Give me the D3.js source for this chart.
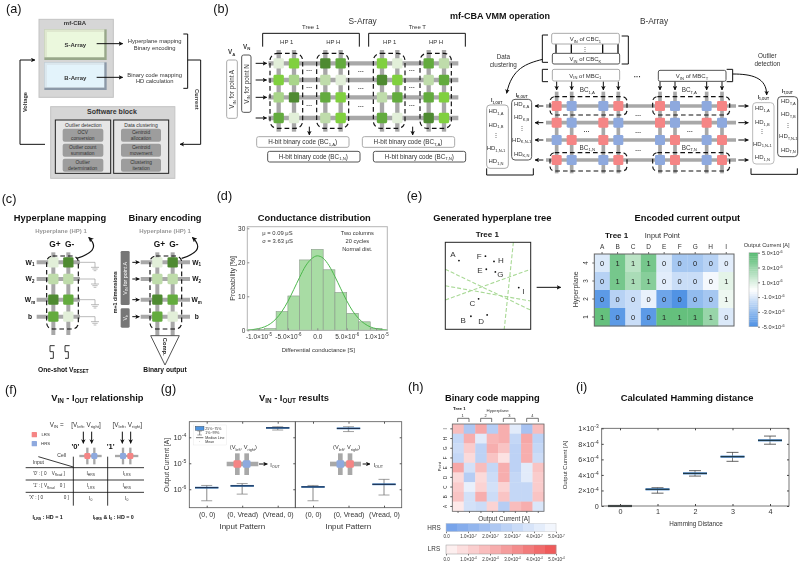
<!DOCTYPE html>
<html><head><meta charset="utf-8">
<script src="https://cdn.jsdelivr.net/npm/d3@7"></script>
<style>html,body{margin:0;padding:0;background:#fff}svg{display:block;font-family:"Liberation Sans",Arial,sans-serif;filter:blur(.3px)}</style>
</head><body><svg id="c" width="800" height="563"></svg>
<script>
// ---------- DATA ----------
const histEdges = [-11,-9,-7,-5,-3,-1,1,3,5,7,9,11];           // ×1e-6 S
const histProb  = [0.3,0.5,5.5,10.1,20.7,23.8,17.8,11.1,5,2.5,0.5];
const fitX = [-12,-11,-10,-9,-8,-7,-6,-5,-4,-3,-2,-1,0,1,2,3,4,5,6,7,8,9,10,11,12];
const fitY = [0.1,0.2,0.5,1,1.9,3.4,5.6,8.5,12,15.6,18.9,21,21.9,21.2,19,15.8,12.2,8.7,5.7,3.5,2,1,0.5,0.2,0.1];
const inputPoints = ['A','B','C','D','E','F','G','H','I'];
const hyperplanes = ['4','3','2','1'];
const encodedCurrent = [
  [-1,4,2,4,-1,-2.5,-2.5,-2,-0.8],
  [-2,4,2.5,3.5,-0.8,-1.5,-1.5,-0.3,0.8],
  [-4.5,-2,-1.5,-0.6,-4,-4.8,-3,-2.5,0.5],
  [4.5,-4.5,-1.5,-4.5,4.5,4.5,4.5,3,-1]];
const encodedBits = [[0,1,1,1,0,0,0,0,0],[0,1,1,1,0,0,0,0,1],[0,0,0,0,0,0,0,0,1],[1,0,0,0,1,1,1,1,0]];
const treePoints = [['A',.16,.79],['B',.30,.15],['C',.39,.35],['D',.49,.165],['E',.48,.69],['F',.47,.84],['G',.586,.66],['H',.57,.78],['I',.86,.48]];
const treeLabelOffset = {A:[-6,-7],B:[-7.7,4],C:[-6.3,3.7],D:[-6,5.7],E:[-6.3,.7],F:[-6.3,0],G:[5,2.3],H:[7,-1.7],I:[4.7,3.3]};
const treeSplits = [[.797,1,.69,0],[0,.69,1,.22],[0,.5,1,.325],[0,.337,1,.69]];
const gPatterns = ['(0, 0)','(0, Vread)','(Vread, 0)'];
const gLeftLow  = [3.6e-7,6.5e-7,1.9e-4];
const gLeftMed  = [1.15e-6,1.35e-6,2.3e-4];
const gLeftHigh = [1.4e-6,1.66e-6,2.55e-4];
const gRightLow = [3.6e-7,1.66e-4,6e-7];
const gRightMed = [1.23e-6,2.2e-4,1.55e-6];
const gRightHigh= [1.4e-6,2.55e-4,2.4e-6];
const codeRows = ['I','H','G','F','E','D','C','B','A'];
const codeCols = [0,1,2,3,4,5,6,7];
const codeMap = [
  [.45,-.55,.6,-.5,.55,-.2,-.6,.45],
  [-.4,.55,-.2,.5,.55,-.4,.6,-.45],
  [-.35,.35,-.45,.55,.4,-.45,.55,-.4],
  [-.4,.25,-.45,.4,.2,-.45,.55,-.35],
  [.6,-.3,.45,-.4,.55,-.45,-.2,.4],
  [.25,-.5,.25,-.35,.55,-.4,-.2,.35],
  [.35,-.15,.3,-.3,.3,-.4,-.4,.35],
  [.4,-.3,.55,-.35,.4,-.4,-.4,.4],
  [.15,-.3,-.35,.3,-.5,.45,.55,-.25]];
const hrsTicks = ['0.0','1.0×10^{-7}','2.0×10^{-7}','3.0×10^{-7}','4.0×10^{-7}','5.0×10^{-7}'];
const lrsTicks = ['0.0','1.0×10^{-4}','2.0×10^{-4}','3.0×10^{-4}','4.0×10^{-4}','5.0×10^{-4}'];
const hammingD   = [0,1,2,3,4];
const hammingLow = [0,1.65e-4,3.85e-4,5.75e-4,7.95e-4];
const hammingMed = [0,2.15e-4,4.2e-4,6.35e-4,8.45e-4];
const hammingHigh= [0,2.35e-4,4.55e-4,6.9e-4,9.0e-4];
const sArrayLevels = [
  [0,3,5,4,3,0,4,1],
  [3,2,1,0,5,3,1,4],
  [2,5,4,3,1,4,4,3],
  [4,0,1,3,4,0,5,3]];
const bArrayStates = ['RBBRRBBR','RBRBRBRB','BRRBBRBR','RBBRBRBR'];

// ---------- HELPERS ----------
const svg = d3.select('#c');
const GREENS = ['#e2efd9','#bfdcab','#a9d58a','#80d03f','#63ab3e','#4e8a31'];
const RED='#f58585', BLUE='#8ea9de', GRAY='#a8a8a8', TXT='#333';
const TITLE=28;
const defs = svg.append('defs');
function marker(id,c){defs.append('marker').attr('id',id).attr('viewBox','0 0 10 10').attr('refX',9).attr('refY',5)
  .attr('markerWidth',4.5).attr('markerHeight',4.5).attr('orient','auto').append('path').attr('d','M0,0L10,5L0,10L2.5,5Z').attr('fill',c);}
marker('arr','#111');
function rich(sel,str,size){
  sel.text(null);
  const re=/_\{([^}]*)\}|\^\{([^}]*)\}/g; let last=0,m,pend=0;
  const add=(t,dy,fs)=>{const ts=sel.append('tspan').text(t).attr('dy',dy); if(fs) ts.attr('font-size',fs); return ts;};
  while((m=re.exec(str))){
    if(m.index>last){add(str.slice(last,m.index),pend); pend=0;}
    if(m[1]!==undefined){add(m[1],pend+size*.25,size*.68); pend=-size*.25;}
    else{add(m[2],pend-size*.38,size*.68); pend=size*.38;}
    last=re.lastIndex;
  }
  if(last<str.length) add(str.slice(last),pend);
  return sel;
}
function T(g,x,y,s,o={}){
  const size=o.size||18;
  const t=g.append('text').attr('x',o.rot?0:x).attr('y',o.rot?0:y).attr('font-size',size)
    .attr('text-anchor',o.anchor||'middle').attr('fill',o.fill||TXT).attr('font-weight',o.bold?'bold':'normal');
  if(o.rot) t.attr('transform',`translate(${x},${y}) rotate(${o.rot})`);
  rich(t,s,size); return t;
}
function R(g,x,y,w,h,o={}){
  return g.append('rect').attr('x',x).attr('y',y).attr('width',w).attr('height',h).attr('rx',o.rx||0)
    .attr('fill',o.fill||'none').attr('stroke',o.stroke||'none').attr('stroke-width',o.sw||1).attr('stroke-dasharray',o.dash||null);
}
function L(g,pts,o={}){
  const p=g.append('path').attr('d',typeof pts==='string'?pts:d3.line()(pts)).attr('fill','none')
    .attr('stroke',o.stroke||'#111').attr('stroke-width',o.sw||3).attr('stroke-dasharray',o.dash||null);
  if(o.arrow) p.attr('marker-end','url(#arr)');
  return p;
}
function XB(g,cols,rows,hx,vy,colorOf,size,lw){
  rows.forEach(y=>L(g,[[hx[0],y],[hx[1],y]],{stroke:GRAY,sw:lw}));
  cols.forEach(x=>L(g,[[x,vy[0]],[x,vy[1]]],{stroke:GRAY,sw:lw}));
  rows.forEach((y,i)=>cols.forEach((x,j)=>R(g,x-size/2,y-size/2,size,size,{fill:colorOf(i,j),rx:4})));
}
const P=(x,y)=>svg.append('g').attr('transform',`translate(${x},${y}) scale(${1/3})`);
function frameAxis(g,x0,x1,y0,y1,c,w){R(g,x0,y0,x1-x0,y1-y0,{stroke:c,sw:w||1});}
function styleAxis(ax,c){ax.select('.domain').remove();ax.selectAll('line').attr('stroke',c);}
function relabel(ax,fn,size,fill){
  ax.selectAll('text').attr('font-size',size).attr('fill',fill||TXT).attr('font-family','inherit').each(function(d,i){
    const s=d3.select(this), dy=parseFloat(s.attr('dy'))||0;
    s.attr('y',(parseFloat(s.attr('y'))||0)+dy*size).attr('dy',null);
    rich(s,fn(d,i),size);
  });
}
const sci=(d)=>d===0?'0.0':`${d<0?'-':''}${(Math.abs(d)/Math.pow(10,Math.floor(Math.log10(Math.abs(d))))).toFixed(1)}×10^{${Math.floor(Math.log10(Math.abs(d)))}}`;

// ---------- (a) ----------
{const g=P(0,0);
T(g,18,40,'(a)',{size:38,anchor:'start',fill:'#111'});
R(g,117,58,223,234,{fill:'#d6d6d6',stroke:'#c4c4c4',sw:3});
T(g,225,76,'mf-CBA',{size:18,bold:true});
R(g,133,88,187,92,{fill:'#98a88a'}); R(g,133,88,180,84,{fill:'#dfe8cf'}); R(g,141,96,171,75,{fill:'#ebf8dd'});
R(g,133,187,187,83,{fill:'#8c99a8'}); R(g,133,187,180,76,{fill:'#dbe7ee'}); R(g,141,195,171,66,{fill:'#e3f3fb'});
T(g,226,140,'S-Array',{size:18,bold:true}); T(g,226,239,'B-Array',{size:18,bold:true});
L(g,[[290,131],[368,131]],{arrow:1}); L(g,[[290,232],[368,232]],{arrow:1});
T(g,464,129,'Hyperplane mapping',{size:17.5}); T(g,464,149,'Binary encoding',{size:17.5});
T(g,464,230,'Binary code mapping',{size:17.5}); T(g,464,250,'HD calculation',{size:17.5});
L(g,[[550,102],[563,102],[563,265],[550,265]]);
L(g,[[563,180],[602,180],[602,433],[540,433]],{arrow:1});
T(g,585,298,'Current',{size:17,bold:true,rot:90});
L(g,[[135,433],[60,433],[60,180],[105,180]],{arrow:1});
T(g,80,306,'Voltage',{size:17,bold:true,rot:-90});
R(g,152,320,373,215,{fill:'#d6d6d6',stroke:'#c4c4c4',sw:3});
T(g,336,343,'Software block',{size:21,bold:true});
R(g,166,360,166,160,{fill:'#e6e6e6',stroke:'#222',sw:3}); R(g,341,360,165,160,{fill:'#e6e6e6',stroke:'#222',sw:3});
T(g,250,380,'Outlier detection',{size:15}); T(g,423,380,'Data clustering',{size:15});
[[188,386,'OCV','conversion','Centroid','allocation'],[188,431,'Outlier count','summation','Centroid','movement'],[188,476,'Outlier','determination','Clustering','iteration']]
.forEach(([x,y,a,b,c,d])=>{R(g,x,y,122,39,{fill:'#9d9d9d',rx:6});R(g,x+175,y,120,39,{fill:'#9d9d9d',rx:6});
 T(g,x+60,y+16,a,{size:14.5});T(g,x+60,y+33,b,{size:14.5});T(g,x+235,y+16,c,{size:14.5});T(g,x+235,y+33,d,{size:14.5});});
}
// ---------- (b) ----------
{const g0=P(0,0);
T(g0,640,38,'(b)',{size:38,anchor:'start',fill:'#111'});
T(g0,695,163,'V_{A}',{size:19,bold:true});
R(g0,680,180,32,175,{fill:'#fff',stroke:'#aaa',sw:3,rx:6});
T(g0,703,268,'V_{IN} for point A',{size:19,rot:-90});
const g=P(240,0);
T(g,20,146,'V_{N}',{size:19,bold:true});
R(g,5,165,28,172,{fill:'#fff',stroke:'#555',sw:3,rx:6});
T(g,26,252,'V_{IN} for point N',{size:19,rot:-90});
T(g,368,71,'S-Array',{size:25});
T(g0,1500,57,'mf-CBA VMM operation',{size:27,bold:true,fill:'#111'});
T(g,212,88,'Tree 1',{size:18}); T(g,532,88,'Tree T',{size:18});
L(g,[[68,140],[68,100],[358,100],[358,140]]); L(g,[[386,140],[386,100],[676,100],[676,140]]);
[[140,'HP 1'],[280,'HP H'],[449,'HP 1'],[588,'HP H']].forEach(([x,s])=>T(g,x,132,s,{size:18}));
const rows=[190,240,292,354], cols=[116,162,256,302,426,472,566,612];
XB(g,cols,rows,[85,655],[150,395],(i,j)=>GREENS[sArrayLevels[i][j]],31,13);
rows.forEach(y=>L(g,[[47,y],[80,y]],{arrow:1}));
[[90,98],[230,96],[400,95],[540,94]].forEach(([x,w])=>R(g,x,160,w,225,{stroke:'#111',sw:3.5,dash:'14 9',rx:22}));
[[208,215],[208,268],[208,322],[363,220],[363,270],[363,325],[516,215],[516,268],[516,322]].forEach(([x,y])=>T(g,x,y,'···',{size:18,bold:true}));
L(g,[[208,380],[208,405]],{arrow:1}); L(g,[[518,380],[518,405]],{arrow:1});
[[50,410,'#aaa','H-bit binary code (BC_{1,A})',188,433],[83,454,'#555','H-bit binary code (BC_{1,N})',220,476],[367,410,'#aaa','H-bit binary code (BC_{T,A})',504,433],[400,454,'#555','H-bit binary code (BC_{T,N})',538,476]]
.forEach(([x,y,c,s,tx,ty])=>{R(g,x,y,277,32,{fill:'#fff',stroke:c,sw:3,rx:6});T(g,tx,ty,s,{size:19});});
// B-array
const b=P(510,0);
T(b,432,71,'B-Array',{size:25});
[138,184,278,324].forEach(x=>L(b,[[x,132],[x,160]],{sw:4}));
T(b,226,152,'⋮',{size:18});
R(b,125,100,203,32,{fill:'#fff',stroke:'#aaa',sw:3,rx:5}); T(b,226,123,'V_{IN} of CBC_{1}',{size:18});
R(b,127,160,202,32,{fill:'#fff',stroke:'#555',sw:3,rx:5}); T(b,226,183,'V_{IN} of CBC_{K}',{size:18});
R(b,127,208,202,35,{fill:'#fff',stroke:'#aaa',sw:3,rx:5}); T(b,226,233,'V_{IN} of MBC_{1}',{size:18});
R(b,445,211,203,33,{fill:'#fff',stroke:'#555',sw:3,rx:5}); T(b,546,234,'V_{IN} of MBC_{T}',{size:18});
L(b,[[114,105],[97,105],[97,187],[114,187]]); L(b,[[335,108],[355,108],[355,192],[335,192]]);
L(b,[[114,208],[97,208],[97,245],[114,245]]); L(b,[[650,208],[668,208],[668,245],[650,245]]);
T(b,382,237,'···',{size:22,bold:true});
L(b,'M668,222C725,222 770,232 770,285',{arrow:1});
L(b,'M98,178C50,190 5,205 -10,280',{arrow:1});
T(b,-20,178,'Data',{size:19}); T(b,-20,201,'clustering',{size:19});
T(b,772,173,'Outlier',{size:19}); T(b,772,198,'detection',{size:19});
const bc=[140,185,280,325,450,495,590,636], br=[318,368,420,480];
bc.forEach(x=>L(b,[[x,245],[x,270]],{arrow:1}));
XB(b,bc,br,[108,678],[275,520],(i,j)=>bArrayStates[i][j]==='R'?RED:BLUE,30,11);
br.forEach(y=>{L(b,[[100,y],[75,y]],{arrow:1});L(b,[[685,y],[715,y]],{arrow:1});});
[[120,290],[120,458],[428,290],[428,458]].forEach(([x,y])=>R(b,x,y,231,55,{stroke:'#111',sw:3.5,dash:'14 9',rx:14}));
[[232,277,'BC_{1,A}'],[538,277,'BC_{T,A}'],[232,449,'BC_{1,N}'],[538,449,'BC_{T,N}']].forEach(([x,y,s])=>T(b,x,y,s,{size:19}));
[[385,350],[385,403],[385,456],[230,400],[540,400]].forEach(([x,y])=>T(b,x,y,'···',{size:18,bold:true}));
function hd(x,y,w,h,c,head,hx,hy,cx,k,ys){
 R(b,x,y,w,h,{fill:'#fff',stroke:c,sw:3,rx:10});
 T(b,hx,hy,head,{size:15,bold:true});
 ['A','B',null,'N-1','N'].forEach((n,i)=>T(b,cx,ys[i],n?`HD_{${k},${n}}`:'⋮',{size:18}));
}
hd(-70,315,65,190,'#aaa','I_{1,OUT}',-40,307,-42,'1',[340,380,412,450,490]);
hd(5,298,60,182,'#555','I_{K,OUT}',35,290,35,'K',[318,358,390,425,467]);
hd(728,308,64,184,'#bbb','I_{1,OUT}',760,297,757,'1',[330,372,400,437,478]);
hd(803,290,60,180,'#555','I_{T,OUT}',832,279,835,'T',[310,348,380,415,455]);
L(b,[[-70,505],[-70,525],[70,525],[70,505]]); L(b,[[723,505],[723,523],[862,523],[862,505]]);
}
// ---------- (c) ----------
{const g=P(0,195);
T(g,5,24,'(c)',{size:38,anchor:'start',fill:'#111'});
T(g,180,79,'Hyperplane mapping',{size:TITLE,bold:true,fill:'#111'});
T(g,495,79,'Binary encoding',{size:TITLE,bold:true,fill:'#111'});
T(g,183,115,'Hyperplane (HP) 1',{size:18,bold:true,fill:'#999'});
T(g,495,115,'Hyperplane (HP) 1',{size:18,bold:true,fill:'#999'});
const rows=[202,252,314,365];
const cc=[[0,5],[1,1],[5,4],[4,0]];
T(g,165,155,'G+',{size:25,bold:true,fill:'#111'});T(g,209,155,'G-',{size:25,bold:true,fill:'#111'});
T(g,478,155,'G+',{size:25,bold:true,fill:'#111'});T(g,522,155,'G-',{size:25,bold:true,fill:'#111'});
XB(g,[160,205],rows,[110,240],[172,420],(i,j)=>GREENS[cc[i][j]],31,12);
XB(g,[472,518],rows,[422,570],[172,425],(i,j)=>GREENS[cc[i][j]],31,12);
['W_{1}','W_{2}','W_{m}','b'].forEach((s,i)=>{T(g,90,rows[i]+7,s,{size:20,bold:true,fill:'#111'});T(g,590,rows[i]+7,s,{size:20,bold:true,fill:'#111'});});
rows.forEach(y=>{L(g,[[240,y],[285,y],[285,y+15]],{stroke:'#999',sw:2});
 [[12,0],[8,5],[4,10]].forEach(([d,o])=>L(g,[[285-d,y+15+o],[285+d,y+15+o]],{stroke:'#999',sw:2}));});
R(g,140,183,95,219,{stroke:'#111',sw:3.5,dash:'14 9',rx:18}); R(g,450,183,95,219,{stroke:'#111',sw:3.5,dash:'14 9',rx:18});
L(g,'M230,190C270,178 300,160 266,127',{arrow:1,sw:3.5}); L(g,'M545,190C585,178 612,160 577,127',{arrow:1,sw:3.5});
[150,195].forEach(x=>L(g,`M${x+14},452H${x}V470H${x+10}V490H${x}`,{stroke:'#333',sw:3}));
T(g,190,530,'One-shot V_{RESET}',{size:20,bold:true,fill:'#111'});
rows.forEach(y=>L(g,[[397,y],[418,y]],{arrow:1}));
R(g,362,168,27,162,{fill:'#777',rx:4}); R(g,362,340,27,58,{fill:'#777',rx:4});
T(g,381,250,'V_{IN} for point A',{size:16,rot:-90,fill:'#fff'}); T(g,381,368,'V_{b}',{size:16,rot:-90,fill:'#fff'});
T(g,351,292,'m+1 dimensions',{size:16,bold:true,rot:-90,fill:'#222'});
g.append('path').attr('d','M452,422H538L495,510Z').attr('fill','#fff').attr('stroke','#555').attr('stroke-width',3);
T(g,490,455,'Comp.',{size:17,bold:true,rot:90,fill:'#111'});
T(g,495,530,'Binary output',{size:20,bold:true,fill:'#111'});
}
// ---------- (d) ----------
{const x=d3.scaleLinear().domain([-11.9,11.9]).range([247.3,387.3]), y=d3.scaleLinear().domain([0,30]).range([330.3,228.3]);
const g=svg.append('g');
const z=P(185,195);
T(z,95,16,'(d)',{size:38,anchor:'start',fill:'#111'});
T(z,388,79,'Conductance distribution',{size:TITLE,bold:true,fill:'#111'});
g.selectAll('rect.h').data(histProb).join('rect').attr('class','h')
 .attr('x',(d,i)=>x(histEdges[i])).attr('width',(d,i)=>x(histEdges[i+1])-x(histEdges[i]))
 .attr('y',d=>y(d)).attr('height',d=>y(0)-y(d)).attr('fill','#a8dca4').attr('stroke','#8a9a8a').attr('stroke-width',.6);
g.append('path').datum(fitX).attr('fill','none').attr('stroke','#4cb84c').attr('stroke-width',1)
 .attr('d',d3.line().x(d=>x(d)).y((d,i)=>y(fitY[i])).curve(d3.curveMonotoneX));
frameAxis(g,247.3,387.3,226.7,330.3,'#b5b5b5',1);
const ax=g.append('g').attr('transform','translate(0,330.3)').call(d3.axisBottom(x).tickValues([-10,-5,0,5,10]).tickSizeInner(-2).tickPadding(4));
styleAxis(ax,'#888'); relabel(ax,d=>sci(d*1e-6),6.5);
const ay=g.append('g').attr('transform','translate(247.3,0)').call(d3.axisLeft(y).tickValues([0,10,20,30]).tickSizeInner(-2).tickPadding(2));
styleAxis(ay,'#888'); relabel(ay,d=>String(d),6.5);
T(z,400,470,'Differential conductance [S]',{size:18});
T(z,150,250,'Probability [%]',{size:21,rot:-90});
T(z,232,121,'μ = 0.09 μS',{size:17.5,anchor:'start'}); T(z,232,144,'σ = 3.63 μS',{size:17.5,anchor:'start'});
T(z,517,121,'Two columns',{size:17}); T(z,517,144,'20 cycles',{size:17}); T(z,517,167,'Normal dist.',{size:17});
}
// ---------- (e) ----------
{const z=P(375,195);
T(z,95,16,'(e)',{size:38,anchor:'start',fill:'#111'});
T(z,352,79,'Generated hyperplane tree',{size:TITLE,bold:true,fill:'#111'});
T(z,337,126,'Tree 1',{size:24,bold:true,fill:'#111'});
T(z,937,79,'Encoded current output',{size:TITLE,bold:true,fill:'#111'});
T(z,725,130,'Tree 1',{size:24,bold:true,fill:'#111'}); T(z,862,130,'Input Point',{size:22});
L(z,[[485,277],[557,277]],{arrow:1,sw:3});
const g=svg.append('g');
const tx=d3.scaleLinear().domain([0,1]).range([445.3,530.7]), ty=d3.scaleLinear().domain([0,1]).range([329.3,242.3]);
g.selectAll('line.s').data(treeSplits).join('line').attr('x1',d=>tx(d[0])).attr('y1',d=>ty(d[1])).attr('x2',d=>tx(d[2])).attr('y2',d=>ty(d[3]))
 .attr('stroke','#a9d996').attr('stroke-width',1.1).attr('stroke-dasharray','4 2');
R(g,445.3,242.3,85.4,87,{stroke:'#222',sw:1});
g.selectAll('circle').data(treePoints).join('circle').attr('cx',d=>tx(d[1])).attr('cy',d=>ty(d[2])).attr('r',.9).attr('fill','#111');
treePoints.forEach(d=>{const o=treeLabelOffset[d[0]];T(g,tx(d[1])+o[0],ty(d[2])+o[1]+3,d[0],{size:8});});
const hx=d3.scaleBand().domain(inputPoints).range([594.3,734]), hy=d3.scaleBand().domain(hyperplanes).range([254,326]);
const col=d3.scaleLinear().domain([-5,0,5]).range(['#4a8fe3','#ffffff','#54b96f']);
encodedCurrent.forEach((r,i)=>r.forEach((v,j)=>{
 g.append('rect').attr('x',hx(inputPoints[j])).attr('y',hy(hyperplanes[i])).attr('width',hx.bandwidth()+.3).attr('height',hy.bandwidth()+.3).attr('fill',col(v));
 T(g,hx(inputPoints[j])+hx.bandwidth()/2,hy(hyperplanes[i])+hy.bandwidth()/2+3,String(encodedBits[i][j]),{size:7.5,fill:'#222'});
}));
R(g,594.3,254,139.7,72,{stroke:'#666',sw:1});
const at=g.append('g').attr('transform','translate(0,254)').call(d3.axisTop(hx).tickSize(2).tickPadding(3)); styleAxis(at,'#666'); relabel(at,d=>d,6.5);
const al=g.append('g').attr('transform','translate(594.3,0)').call(d3.axisLeft(hy).tickSize(2).tickPadding(2)); styleAxis(al,'#666');
al.selectAll('text').attr('font-size',6.3).attr('font-family','inherit').attr('fill',TXT).attr('transform','rotate(-90,-7,0)').attr('text-anchor','middle').attr('x',-7).attr('y',0).attr('dy','.1em');
T(z,608,283,'Hyperplane',{size:21,rot:-90});
T(z,1175,155,'Output Current [A]',{size:17});
const cb=d3.scaleLinear().domain([-5,5]).range([326.7,252.7]);
d3.range(-5,5,.25).forEach(v=>g.append('rect').attr('x',749).attr('width',9).attr('y',cb(v+.25)).attr('height',cb(v)-cb(v+.25)+.3).attr('fill',col(v+.125)));
R(g,749,252.7,9,74,{stroke:'#bbb',sw:.6});
const ac=g.append('g').attr('transform','translate(758,0)').call(d3.axisRight(cb).tickValues([-5,-3,-1,1,3,5]).tickSize(2).tickPadding(2)); styleAxis(ac,'#777');
relabel(ac,d=>(d<0?'-':'')+`${Math.abs(d).toFixed(1)}×10^{-6}`,5.6);
}
// ---------- (f) ----------
{const g=P(0,375);
const sp='\u00a0';
T(g,15,57,'(f)',{size:38,anchor:'start',fill:'#111'});
T(g,292,78,'V_{IN} - I_{OUT} relationship',{size:TITLE,bold:true,fill:'#111'});
T(g,170,155,'V_{IN} =',{size:19}); T(g,258,155,'[V_{left}, V_{right}]',{size:19}); T(g,382,155,'[V_{left}, V_{right}]',{size:19});
[250,275,367,392].forEach(x=>L(g,[[x,170],[x,205]],{arrow:1}));
R(g,95,171,16,16,{fill:RED,rx:2}); R(g,95,198,16,16,{fill:BLUE,rx:2});
T(g,137,184,'LRS',{size:13}); T(g,137,211,'HRS',{size:13});
T(g,226,222,"'0'",{size:23,bold:true,fill:'#111'}); T(g,332,222,"'1'",{size:23,bold:true,fill:'#111'});
XB(g,[262,283],[243],[238,305],[218,268],(i,j)=>j?BLUE:RED,18,7);
XB(g,[369,391],[243],[345,415],[218,268],(i,j)=>j?RED:BLUE,18,7);
[278,315,352].forEach(y=>L(g,[[77,y],[432,y]],{sw:2.5}));
[220,323].forEach(x=>L(g,[[x,245],[x,392]],{sw:2.5}));
L(g,[[115,245],[220,276]],{sw:2.5});
T(g,185,246,'Cell',{size:15}); T(g,115,267,'Input',{size:15});
T(g,147,300,`'0' : [ 0${sp.repeat(4)}V_{Read} ]`,{size:14}); T(g,147,337,`'1' : [ V_{Read}${sp.repeat(4)}0 ]`,{size:14}); T(g,147,373,`'X' : [ 0${sp.repeat(16)}0 ]`,{size:14});
[['I_{HRS}','I_{LRS}'],['I_{LRS}','I_{HRS}'],['I_{0}','I_{0}']].forEach((r,i)=>{T(g,272,300+i*37,r[0],{size:15});T(g,380,300+i*37,r[1],{size:15});});
T(g,143,432,'I_{LRS} : HD = 1',{size:16,bold:true,fill:'#111'}); T(g,340,432,'I_{HRS} & I_{0} : HD = 0',{size:16,bold:true,fill:'#111'});
}
// ---------- (g) ----------
{const z7=P(0,375), z=P(190,375);
T(z7,482,55,'(g)',{size:38,anchor:'start',fill:'#111'});
T(z,312,78,'V_{IN} - I_{OUT} results',{size:TITLE,bold:true,fill:'#111'});
T(z7,508,270,'Output Current [A]',{size:20,rot:-90});
T(z,157,461,'Input Pattern',{size:24}); T(z,475,461,'Input Pattern',{size:24});
const g=svg.append('g');
const y=d3.scaleLog().domain([Math.pow(10,-6.71),Math.pow(10,-3.4)]).range([507.7,421.7]);
const xL=d3.scalePoint().domain(gPatterns).range([206.7,277.7]), xR=d3.scalePoint().domain(gPatterns).range([313,384]);
function panel(xs,lo,med,hi){
 gPatterns.forEach((p,i)=>{
  const cx=xs(p);
  g.append('line').attr('x1',cx).attr('x2',cx).attr('y1',y(lo[i])).attr('y2',y(hi[i])).attr('stroke','#aaa').attr('stroke-width',1.4);
  [lo[i],hi[i]].forEach(v=>g.append('line').attr('x1',cx-5.5).attr('x2',cx+5.5).attr('y1',y(v)).attr('y2',y(v)).attr('stroke','#777').attr('stroke-width',.7));
  g.append('rect').attr('x',cx-11.7).attr('width',23.4).attr('y',y(med[i])-.9).attr('height',1.8).attr('fill','#3a7fc4');
  g.append('line').attr('x1',cx-11.7).attr('x2',cx+11.7).attr('y1',y(med[i])).attr('y2',y(med[i])).attr('stroke','#112').attr('stroke-width',.8);
 });
}
panel(xL,gLeftLow,gLeftMed,gLeftHigh);
panel(xR,gRightLow,gRightMed,gRightHigh);
R(g,189.3,421.7,106,86,{stroke:'#555',sw:.8}); R(g,295.3,421.7,106.4,86,{stroke:'#555',sw:.8});
const ay=g.append('g').attr('transform','translate(189.3,0)').call(d3.axisLeft(y).tickValues([1e-4,1e-5,1e-6]).tickSize(-2).tickPadding(3));
styleAxis(ay,'#555'); relabel(ay,d=>`10^{${Math.round(Math.log10(d))}}`,7.5);
const ar=g.append('g').attr('transform','translate(401.7,0)').call(d3.axisRight(y).tickValues([1e-4,1e-5,1e-6]).tickSize(-2).tickFormat('')); styleAxis(ar,'#555');
const am=g.append('g').attr('transform','translate(295.3,0)').call(d3.axisLeft(y).tickValues([1e-4,1e-5,1e-6]).tickSize(2).tickFormat('')); styleAxis(am,'#555');
[xL,xR].forEach(xs=>{
 const a=g.append('g').attr('transform','translate(0,507.7)').call(d3.axisBottom(xs).tickSize(-2).tickPadding(4)); styleAxis(a,'#555'); relabel(a,d=>d,7);
 const t=g.append('g').attr('transform','translate(0,421.7)').call(d3.axisTop(xs).tickSize(-2).tickFormat('')); styleAxis(t,'#555');
});
R(z,10,150,100,60,{fill:'#fff',stroke:'#ddd',sw:1});
R(z,16,154,26,12,{fill:'#4d94e0',stroke:'#222',sw:1});
L(z,[[29,168],[29,180]],{stroke:'#555',sw:2}); L(z,[[22,168],[36,168]],{stroke:'#555',sw:1.5}); L(z,[[22,180],[36,180]],{stroke:'#555',sw:1.5});
L(z,[[18,188],[40,188]],{stroke:'#333',sw:2}); T(z,29,205,'·',{size:11});
['25%~75%','1%~99%','Median Line','Mean'].forEach((s,i)=>T(z,46,164+i*13.5,s,{size:10.5,anchor:'start'}));
T(z,160,223,'(V_{left}, V_{right})',{size:17}); T(z,470,223,'(V_{left}, V_{right})',{size:17});
XB(z,[142,170],[267],[110,205],[235,300],(i,j)=>j?BLUE:RED,23,14);
XB(z,[451,480],[267],[420,513],[235,300],(i,j)=>j?RED:BLUE,23,14);
L(z,[[207,267],[232,267]],{arrow:1}); L(z,[[518,267],[540,267]],{arrow:1});
T(z,255,275,'I_{OUT}',{size:17}); T(z,565,275,'I_{OUT}',{size:17});
}
// ---------- (h) ----------
{const z=P(420,375);
T(z,-36,47,'(h)',{size:38,anchor:'start',fill:'#111'});
T(z,217,79,'Binary code mapping',{size:TITLE,bold:true,fill:'#111'});
T(z,118,106,'Tree 1',{size:13,bold:true,fill:'#111'}); T(z,233,111,'Hyperplane',{size:13});
[[113,147,128,'1'],[182,215,197,'2'],[250,285,268,'3'],[320,355,337,'4']].forEach(([a,b,c,s])=>{
 L(z,[[a,141],[a,130],[b,130],[b,141]],{stroke:'#333',sw:2}); T(z,c,125,s,{size:12});});
const g=svg.append('g');
const hx=d3.scaleBand().domain(codeCols).range([452.3,544]), hy=d3.scaleBand().domain(codeRows).range([424,511.3]);
const col=d3.scaleLinear().domain([-1,0,1]).range(['#6c9ae8','#ffffff','#f06c6c']);
codeMap.forEach((r,i)=>r.forEach((v,j)=>g.append('rect').attr('x',hx(j)).attr('y',hy(codeRows[i])).attr('width',hx.bandwidth()+.3).attr('height',hy.bandwidth()+.3).attr('fill',col(v))));
R(g,452.3,424,91.7,87.3,{stroke:'#666',sw:.8});
const al=g.append('g').attr('transform','translate(452.3,0)').call(d3.axisLeft(hy).tickSize(2).tickPadding(2)); styleAxis(al,'#555');
al.selectAll('text').attr('font-size',4.5).attr('font-family','inherit').attr('fill',TXT).attr('transform','rotate(-90,-6,0)').attr('text-anchor','middle').attr('x',-6).attr('y',0).attr('dy','.1em');
const ab=g.append('g').attr('transform','translate(0,511.3)').call(d3.axisBottom(hx).tickSize(1.5).tickFormat('')); styleAxis(ab,'#555');
T(z,62,275,'Point',{size:12,rot:-90});
T(z,252,438,'Output Current [A]',{size:19});
T(z,42,466,'HRS',{size:19}); T(z,42,529,'LRS',{size:19});
const cb=d3.scaleLinear().domain([0,5]).range([446,556]);
const hrs=d3.scaleLinear().domain([0,5]).range(['#78a4ea','#ffffff']), lrs=d3.scaleLinear().domain([0,5]).range(['#ffffff','#ef5a5a']);
d3.range(0,5,.5).forEach(v=>{
 g.append('rect').attr('x',cb(v)).attr('width',cb(.5)-cb(0)+.3).attr('y',523.3).attr('height',8.4).attr('fill',hrs(v));
 g.append('rect').attr('x',cb(v)).attr('width',cb(.5)-cb(0)+.3).attr('y',545).attr('height',9).attr('fill',lrs(v+.5));
});
R(g,446,523.3,110,8.4,{stroke:'#ccc',sw:.5}); R(g,446,545,110,9,{stroke:'#999',sw:.5});
const a1=g.append('g').attr('transform','translate(0,531.7)').call(d3.axisBottom(cb).tickValues(d3.range(6)).tickSize(1.5).tickPadding(2)); styleAxis(a1,'#777'); relabel(a1,(d,i)=>hrsTicks[i],4.5);
const a2=g.append('g').attr('transform','translate(0,554)').call(d3.axisBottom(cb).tickValues(d3.range(6)).tickSize(1.5).tickPadding(2)); styleAxis(a2,'#777'); relabel(a2,(d,i)=>lrsTicks[i],4.5);
}
// ---------- (i) ----------
{const z=P(560,375);
T(z,48,47,'(i)',{size:38,anchor:'start',fill:'#111'});
T(z,381,79,'Calculated Hamming distance',{size:TITLE,bold:true,fill:'#111'});
T(z,21,270,'Output Current [A]',{size:18,rot:-90});
T(z,408,454,'Hamming Distance',{size:19});
const g=svg.append('g');
const x=d3.scalePoint().domain(hammingD).range([620,770]), y=d3.scaleLinear().domain([0,1e-3]).range([506,428.3]);
hammingD.forEach((h,i)=>{
 const cx=x(h);
 g.append('line').attr('x1',cx).attr('x2',cx).attr('y1',y(hammingLow[i])).attr('y2',y(hammingHigh[i])).attr('stroke','#333').attr('stroke-width',.6);
 [hammingLow[i],hammingHigh[i]].forEach(v=>g.append('line').attr('x1',cx-6).attr('x2',cx+6).attr('y1',y(v)).attr('y2',y(v)).attr('stroke','#222').attr('stroke-width',.7));
 g.append('rect').attr('x',cx-12).attr('width',24).attr('y',y(hammingMed[i])-1.1).attr('height',2.2).attr('fill',i?'#4a86c8':'#555');
 g.append('line').attr('x1',cx-12).attr('x2',cx+12).attr('y1',y(hammingMed[i])).attr('y2',y(hammingMed[i])).attr('stroke','#122').attr('stroke-width',.9);
});
R(g,601.7,428.3,187.3,77.7,{stroke:'#555',sw:.8});
const ax=g.append('g').attr('transform','translate(0,506)').call(d3.axisBottom(x).tickSize(-2).tickPadding(3)); styleAxis(ax,'#444'); relabel(ax,d=>String(d),7.2);
const ay=g.append('g').attr('transform','translate(601.7,0)').call(d3.axisLeft(y).tickValues([0,2e-4,4e-4,6e-4,8e-4,1e-3]).tickSize(-2).tickPadding(3)); styleAxis(ay,'#444');
relabel(ay,d=>{if(d===0)return '0';const e=Math.floor(Math.log10(d)+1e-9);return `${Math.round(d/Math.pow(10,e))}×10^{${e}}`;},7.2);
const ar=g.append('g').attr('transform','translate(789,0)').call(d3.axisRight(y).tickValues([0,2e-4,4e-4,6e-4,8e-4,1e-3]).tickSize(-2).tickFormat('')); styleAxis(ar,'#444');
const at=g.append('g').attr('transform','translate(0,428.3)').call(d3.axisTop(x).tickSize(-2).tickFormat('')); styleAxis(at,'#444');
}
</script></body></html>
